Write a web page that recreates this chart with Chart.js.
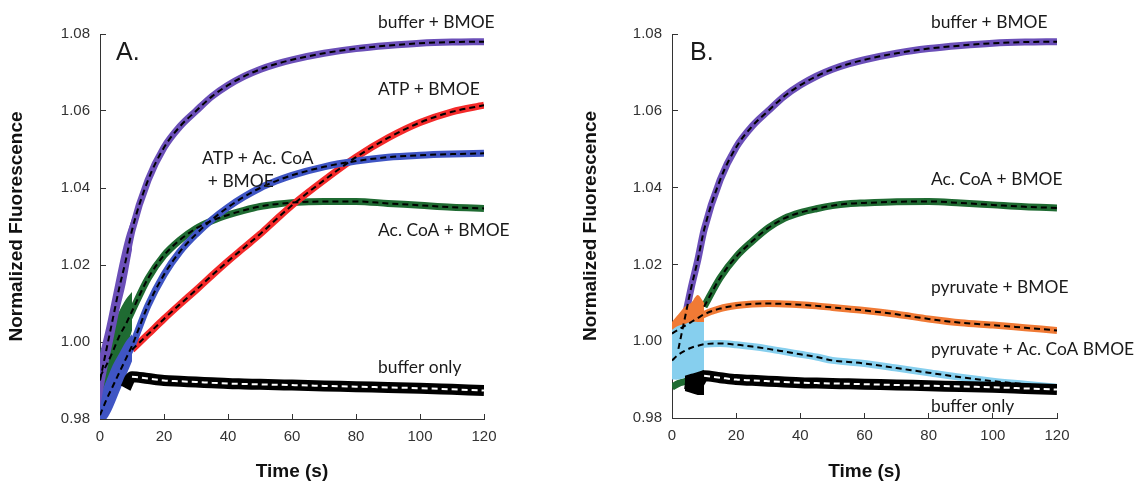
<!DOCTYPE html>
<html>
<head>
<meta charset="utf-8">
<script src="https://cdn.jsdelivr.net/npm/chart.js@4.4.1/dist/chart.umd.min.js"></script>
<style>
  body { margin: 0; background: #fff; width: 1137px; height: 485px; overflow: hidden; }
  .panel { position: absolute; top: 0; height: 485px; }
  #panelA { left: 0; width: 568px; }
  #panelB { left: 568px; width: 569px; }
</style>
</head>
<body>
<div class="panel" id="panelA"><canvas id="chartA" width="568" height="485"></canvas></div>
<div class="panel" id="panelB"><canvas id="chartB" width="569" height="485"></canvas></div>
<script>
// time points (s)
const timeS = [0, 2, 4, 6, 8, 10, 15, 20, 25, 30, 35, 40, 45, 50, 55, 60, 70, 80, 90, 100, 110, 120];
// mixing dead time, where the traces fan out
const earlyS = [0, 2, 4, 6, 8, 10];

const xTicks = [0, 20, 40, 60, 80, 100, 120];
const yTicks = [0.98, 1.0, 1.02, 1.04, 1.06, 1.08];

// buffer + BMOE (same trace in A and B)
const bufferBmoe = [0.990, 0.998, 1.006, 1.014, 1.021, 1.029, 1.042, 1.0505, 1.056, 1.060, 1.0638, 1.0667, 1.069, 1.0708, 1.0722, 1.0733, 1.075, 1.0762, 1.077, 1.0776, 1.0779, 1.078];
const bufferBmoeHi = [0.997, 1.004, 1.012, 1.020, 1.027, 1.032];
const bufferBmoeLo = [0.983, 0.992, 1.000, 1.008, 1.015, 1.024];

// panel A
const acCoaA = [0.991, 0.994, 0.9975, 1.0015, 1.0045, 1.008, 1.0165, 1.0225, 1.0265, 1.0295, 1.0315, 1.033, 1.0342, 1.0352, 1.0358, 1.0362, 1.0365, 1.0365, 1.036, 1.0355, 1.035, 1.0347];
const acCoaAHi = [0.998, 1.000, 1.004, 1.008, 1.011, 1.013];
const acCoaALo = [0.984, 0.987, 0.991, 0.995, 0.998, 1.003];
const atpAcCoa = [0.981, 0.985, 0.9885, 0.992, 0.9955, 0.999, 1.0095, 1.0175, 1.0235, 1.028, 1.0318, 1.035, 1.0377, 1.040, 1.0418, 1.0433, 1.0455, 1.047, 1.048, 1.0485, 1.0488, 1.049];
const atpAcCoaHi = [0.986, 0.990, 0.994, 0.997, 1.000, 1.002];
const atpAcCoaLo = [0.979, 0.980, 0.983, 0.987, 0.991, 0.995];
const atp = [null, null, null, null, null, 0.998, 1.002, 1.006, 1.0098, 1.0135, 1.0173, 1.021, 1.0245, 1.028, 1.0318, 1.0355, 1.042, 1.048, 1.053, 1.057, 1.0598, 1.0615];
const bufferOnlyA = [null, null, null, null, 0.988, 0.991, 0.9905, 0.990, 0.9898, 0.9896, 0.9894, 0.9892, 0.9891, 0.989, 0.9889, 0.9888, 0.9886, 0.9884, 0.9882, 0.988, 0.9877, 0.9874];

// panel B
const acCoaB = [0.988, 0.989, 0.9895, 0.990, null, 1.009, 1.0165, 1.022, 1.026, 1.0295, 1.032, 1.0335, 1.0345, 1.0353, 1.0358, 1.036, 1.0363, 1.0364, 1.036, 1.0355, 1.035, 1.0347];
const pyruvate = [1.002, 1.003, 1.004, 1.005, 1.006, 1.007, 1.0085, 1.0093, 1.0097, 1.0098, 1.0097, 1.0095, 1.0092, 1.0088, 1.0084, 1.008, 1.007, 1.0058, 1.0048, 1.0042, 1.0035, 1.0028];
const pyruvateHi = [1.005, 1.007, 1.009, 1.010, 1.012, 1.010];
const pyruvateLo = [0.999, 1.000, 1.001, 1.002, 1.003, 1.005];
const pyrAcCoa = [0.995, 0.9965, 0.9975, 0.9983, 0.9988, 0.9992, 0.9994, 0.9991, 0.9986, 0.998, 0.9973, 0.9966, 0.9959, 0.995, 0.9946, 0.9942, 0.993, 0.9918, 0.9906, 0.9896, 0.9888, 0.988];
const pyrAcCoaHi = [1.003, 1.004, 1.0045, 1.005, 1.005, 1.005];
const pyrAcCoaLo = [0.990, 0.990, 0.9905, 0.991, 0.991, 0.991];
const bufferOnlyB = [null, null, 0.989, 0.9888, 0.9888, 0.991, 0.9905, 0.990, 0.9898, 0.9896, 0.9894, 0.9892, 0.9891, 0.989, 0.9889, 0.9888, 0.9886, 0.9884, 0.9882, 0.988, 0.9877, 0.9874];
const bufferOnlyBHi = [null, null, 0.991, 0.9915, 0.992, 0.9925];
const bufferOnlyBLo = [null, null, 0.987, 0.9865, 0.986, 0.986];

const labelsA = [
  { text: "buffer + BMOE", t: 86.9, v: 1.0831 },
  { text: "ATP + BMOE", t: 86.9, v: 1.0655 },
  { text: "ATP + Ac. CoA", t: 31.9, v: 1.0478 },
  { text: "+ BMOE", t: 33.7, v: 1.0416 },
  { text: "Ac. CoA + BMOE", t: 86.9, v: 1.0291 },
  { text: "buffer only", t: 86.9, v: 0.9935 },
];
const labelsB = [
  { text: "buffer + BMOE", t: 80.7, v: 1.0831 },
  { text: "Ac. CoA + BMOE", t: 80.7, v: 1.0421 },
  { text: "pyruvate + BMOE", t: 80.7, v: 1.014 },
  { text: "pyruvate + Ac. CoA BMOE", t: 80.7, v: 0.9979 },
  { text: "buffer only", t: 80.7, v: 0.9829 },
];

const PURPLE = "#6b4fb8";
const BLUE = "#3f55c4";
const RED = "#f42a2a";
const GREEN = "#1f6b32";
const ORANGE = "#f07a35";
const LIGHTBLUE = "#86cfee";
const AXIS = "#333";
const FONT = '"Liberation Sans", Arial, sans-serif';

function xy(ts, vs) {
  return ts.map((t, i) => ({ x: t, y: vs[i] }));
}

function band(vals, color, width, from) {
  return {
    data: xy(timeS, vals.map((v, i) => (timeS[i] >= (from || 0) ? v : null))),
    borderColor: color,
    borderWidth: width,
    pointRadius: 0,
    fill: false,
    cubicInterpolationMode: "monotone",
  };
}

// fitted curve drawn dashed over the trace
function fit(vals, color, from) {
  return {
    data: xy(timeS, vals.map((v, i) => (timeS[i] >= from ? v : null))),
    borderColor: color,
    borderWidth: 2,
    borderDash: [6, 4],
    pointRadius: 0,
    fill: false,
    cubicInterpolationMode: "monotone",
  };
}

// noisy spread of the trace before 10 s
function spread(hi, lo, color) {
  return [
    { data: xy(earlyS, hi), borderColor: "rgba(0,0,0,0)", borderWidth: 1, pointRadius: 0, backgroundColor: color, fill: "+1", tension: 0.3 },
    { data: xy(earlyS, lo), borderColor: "rgba(0,0,0,0)", borderWidth: 1, pointRadius: 0, fill: false, tension: 0.3 },
  ];
}

const curveLabels = {
  id: "curveLabels",
  afterDraw(chart, args, opts) {
    const { ctx } = chart;
    const x = chart.scales.x;
    const y = chart.scales.y;
    ctx.save();
    ctx.fillStyle = "#1a1a1a";
    ctx.textBaseline = "middle";
    ctx.textAlign = "left";
    ctx.font = "17.4px Lato";
    opts.items.forEach((it) => {
      ctx.fillText(it.text, x.getPixelForValue(it.t), y.getPixelForValue(it.v));
    });
    ctx.font = "25px " + FONT;
    ctx.fillText(opts.panel.text, x.getPixelForValue(opts.panel.t), y.getPixelForValue(opts.panel.v));
    ctx.restore();
  },
};

function makeChart(id, datasets, items, panel, geom) {
  return new Chart(document.getElementById(id), {
    type: "line",
    data: { datasets: datasets },
    options: {
      responsive: false,
      animation: false,
      devicePixelRatio: 1,
      layout: { padding: { left: 0, top: 34, right: geom.right, bottom: 0 } },
      plugins: {
        legend: { display: false },
        tooltip: { enabled: false },
        curveLabels: { items: items, panel: panel },
      },
      scales: {
        x: {
          type: "linear",
          min: 0,
          max: 120,
          afterBuildTicks: (s) => { s.ticks = xTicks.map((v) => ({ value: v })); },
          border: { display: true, color: AXIS, width: 1 },
          grid: { display: true, drawOnChartArea: false, drawTicks: true, tickLength: -5, color: AXIS },
          ticks: { color: AXIS, font: { family: FONT, size: 15 }, padding: 14, maxRotation: 0 },
          title: { display: true, text: "Time (s)", color: "#111", font: { family: FONT, size: 19, weight: "bold" }, padding: { top: 0, bottom: 2 } },
          afterFit: (s) => { s.height = geom.xh; },
        },
        y: {
          type: "linear",
          min: 0.98,
          max: 1.08,
          afterBuildTicks: (s) => { s.ticks = yTicks.map((v) => ({ value: v })); },
          border: { display: true, color: AXIS, width: 1 },
          grid: { display: true, drawOnChartArea: false, drawTicks: true, tickLength: -6, color: AXIS },
          ticks: { color: AXIS, font: { family: FONT, size: 15 }, padding: 16, callback: (v) => Number(v).toFixed(2) },
          title: { display: true, text: "Normalized Fluorescence", color: "#111", font: { family: FONT, size: 19, weight: "bold" }, padding: { top: geom.titlePad, bottom: 0 } },
          afterFit: (s) => { s.width = geom.yw; },
        },
      },
    },
    plugins: [curveLabels],
  });
}

// dataset 0 is drawn on top
const datasetsA = [
  fit(bufferOnlyA, "#fff", 10),
  fit(bufferBmoe, "#000", 0),
  fit(atpAcCoa, "#000", 0),
  fit(atp, "#000", 10),
  fit(acCoaA, "#000", 0),
  band(bufferOnlyA, "#000", 11),
  band(bufferBmoe, PURPLE, 7),
  ...spread(bufferBmoeHi, bufferBmoeLo, PURPLE),
  band(atpAcCoa, BLUE, 7),
  ...spread(atpAcCoaHi, atpAcCoaLo, BLUE),
  band(atp, RED, 7),
  band(acCoaA, GREEN, 7),
  ...spread(acCoaAHi, acCoaALo, GREEN),
];

const datasetsB = [
  fit(bufferOnlyB, "#fff", 10),
  fit(bufferBmoe, "#000", 2),
  fit(acCoaB, "#000", 10),
  fit(pyruvate, "#000", 0),
  fit(pyrAcCoa, "#000", 0),
  band(bufferOnlyB, "#000", 11),
  ...spread(bufferOnlyBHi, bufferOnlyBLo, "#000"),
  band(pyrAcCoa, LIGHTBLUE, 7),
  ...spread(pyrAcCoaHi, pyrAcCoaLo, LIGHTBLUE),
  band(pyruvate, ORANGE, 7),
  ...spread(pyruvateHi, pyruvateLo, ORANGE),
  band(bufferBmoe, PURPLE, 7, 2),
  band(acCoaB, GREEN, 7),
];

makeChart("chartA", datasetsA, labelsA, { text: "A.", t: 5, v: 1.0751 }, { yw: 100, xh: 66, right: 84, titlePad: 5 });
makeChart("chartB", datasetsB, labelsB, { text: "B.", t: 5.6, v: 1.0751 }, { yw: 104, xh: 67, right: 80, titlePad: 11 });
</script>
</body>
</html>
